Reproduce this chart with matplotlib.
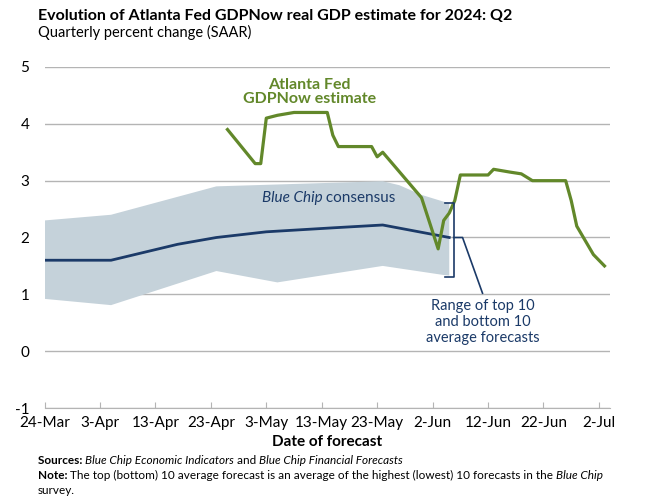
import matplotlib
matplotlib.use("Agg")
import matplotlib.pyplot as plt
import matplotlib.dates as mdates
import numpy as np

plt.rcParams["axes.unicode_minus"] = False

# GDPNow estimates (date, percent)
gdpnow_dates = ["2024-04-26", "2024-05-01", "2024-05-02", "2024-05-03", "2024-05-05",
                "2024-05-08", "2024-05-14", "2024-05-15", "2024-05-16", "2024-05-22",
                "2024-05-23", "2024-05-24", "2024-05-31", "2024-06-03", "2024-06-04",
                "2024-06-05", "2024-06-06", "2024-06-07", "2024-06-12", "2024-06-13",
                "2024-06-16", "2024-06-18", "2024-06-20", "2024-06-26", "2024-06-27",
                "2024-06-28", "2024-07-01", "2024-07-02", "2024-07-03"]
gdpnow_vals = [3.9, 3.3, 3.3, 4.1, 4.15,
               4.2, 4.2, 3.8, 3.6, 3.6,
               3.42, 3.5, 2.7, 1.8, 2.3,
               2.43, 2.65, 3.1, 3.1, 3.2,
               3.15, 3.12, 3.0, 3.0, 2.65,
               2.2, 1.7, 1.6, 1.5]

# Blue Chip consensus
bc_dates = ["2024-03-24", "2024-04-05", "2024-04-17", "2024-04-24", "2024-05-03",
            "2024-05-15", "2024-05-24", "2024-06-05"]
bc_vals = [1.6, 1.6, 1.88, 2.0, 2.1, 2.17, 2.22, 2.0]

# top 10 / bottom 10 averages
top_dates = ["2024-03-24", "2024-04-05", "2024-04-24", "2024-05-24", "2024-05-27",
             "2024-05-31", "2024-06-05"]
top_vals = [2.3, 2.4, 2.9, 2.99, 2.92, 2.75, 2.6]
bot_dates = ["2024-03-24", "2024-04-05", "2024-04-24", "2024-05-05", "2024-05-24",
             "2024-06-04", "2024-06-05"]
bot_vals = [0.92, 0.81, 1.41, 1.21, 1.5, 1.34, 1.33]

tick_labels = ["24-Mar", "3-Apr", "13-Apr", "23-Apr", "3-May", "13-May", "23-May",
               "2-Jun", "12-Jun", "22-Jun", "2-Jul"]

green = "#62882a"
navy = "#1b3a68"
band = "#c5d2da"
grid = "#b4b4b4"
font = "Lato"

def dn(lst):
    return mdates.date2num(np.array(lst, dtype="datetime64[D]"))

fig = plt.figure(figsize=(6.48, 5.0), dpi=100)
ax = fig.add_axes([0.0687, 0.184, 0.8727, 0.682])

x_top = dn(top_dates)
x_bot = dn(bot_dates)
ax.fill(np.concatenate([x_top, x_bot[::-1]]), np.concatenate([top_vals, bot_vals[::-1]]),
        color=band, lw=0, zorder=1)
ax.plot(dn(bc_dates), bc_vals, color=navy, lw=2, zorder=3)
ax.plot(dn(gdpnow_dates), gdpnow_vals, color=green, lw=2.3, zorder=4)

x0 = dn(["2024-03-24"])[0]
ax.set_xlim(x0, x0 + 102)
ax.set_ylim(-1, 5)
ax.set_yticks(range(-1, 6))
ax.set_xticks([x0 + 10 * i for i in range(len(tick_labels))])
ax.set_xticklabels(tick_labels)
ax.grid(axis="y", color=grid, lw=1, zorder=0)
ax.set_axisbelow(True)
for s in ["top", "right", "left"]:
    ax.spines[s].set_visible(False)
ax.spines["bottom"].set_color(grid)
ax.tick_params(axis="x", direction="in", length=4, color=grid, labelsize=11, pad=6)
ax.tick_params(axis="y", length=0, labelsize=11, pad=11)
for lab in ax.get_xticklabels() + ax.get_yticklabels():
    lab.set_fontfamily(font)
ax.set_xlabel("Date of forecast", fontsize=11, fontweight="bold", family=font, labelpad=3)

# bracket for the range
bx = x0 + 73.8
ax.plot([bx - 1.5, bx, bx, bx - 1.5], [2.6, 2.6, 1.3, 1.3], color=navy, lw=1.2, zorder=5)
ax.plot([bx, bx + 1.6, x0 + 79.0], [2.0, 2.0, 1.02], color=navy, lw=1.2, zorder=5)
ax.text(x0 + 79.0, 0.92, "Range of top 10\nand bottom 10\naverage forecasts", ha="center",
        va="top", color=navy, fontsize=10.5, family=font, linespacing=1.2)

ax.text(x0 + 47.8, 4.56, "Atlanta Fed\nGDPNow estimate", ha="center", va="center",
        color=green, fontsize=11.5, family=font, fontweight="bold", linespacing=1.05)

t1 = ax.text(x0 + 39.2, 2.69, "Blue Chip", ha="left", va="center", color=navy,
             fontsize=11, family=font, style="italic")
ax.annotate(" consensus", xy=(1, 0), xycoords=t1, va="bottom", ha="left", color=navy,
            fontsize=11, family=font)

fig.text(0.058, 0.967, "Evolution of Atlanta Fed GDPNow real GDP estimate for 2024: Q2",
         fontsize=11.5, fontweight="bold", family=font, va="center")
fig.text(0.058, 0.936, "Quarterly percent change (SAAR)", fontsize=10.5, family=font,
         va="center")

# footnotes
fs = 8.5
s1 = fig.text(0.058, 0.079, "Sources: ", fontsize=fs, fontweight="bold", family=font, va="center")
s2 = plt.annotate("Blue Chip Economic Indicators", xy=(1, 0), xycoords=s1, va="bottom",
                  fontsize=fs, style="italic", family=font, annotation_clip=False)
s3 = plt.annotate(" and ", xy=(1, 0), xycoords=s2, va="bottom", fontsize=fs, family=font)
plt.annotate("Blue Chip Financial Forecasts", xy=(1, 0), xycoords=s3, va="bottom",
             fontsize=fs, style="italic", family=font)
n1 = fig.text(0.058, 0.049, "Note: ", fontsize=fs, fontweight="bold", family=font, va="center")
n2 = plt.annotate("The top (bottom) 10 average forecast is an average of the highest (lowest) "
                  "10 forecasts in the ", xy=(1, 0), xycoords=n1, va="bottom", fontsize=fs,
                  family=font)
plt.annotate("Blue Chip", xy=(1, 0), xycoords=n2, va="bottom", fontsize=fs, style="italic",
             family=font)
fig.text(0.058, 0.02, "survey.", fontsize=fs, family=font, va="center")

fig.savefig("out.png", dpi=100)
